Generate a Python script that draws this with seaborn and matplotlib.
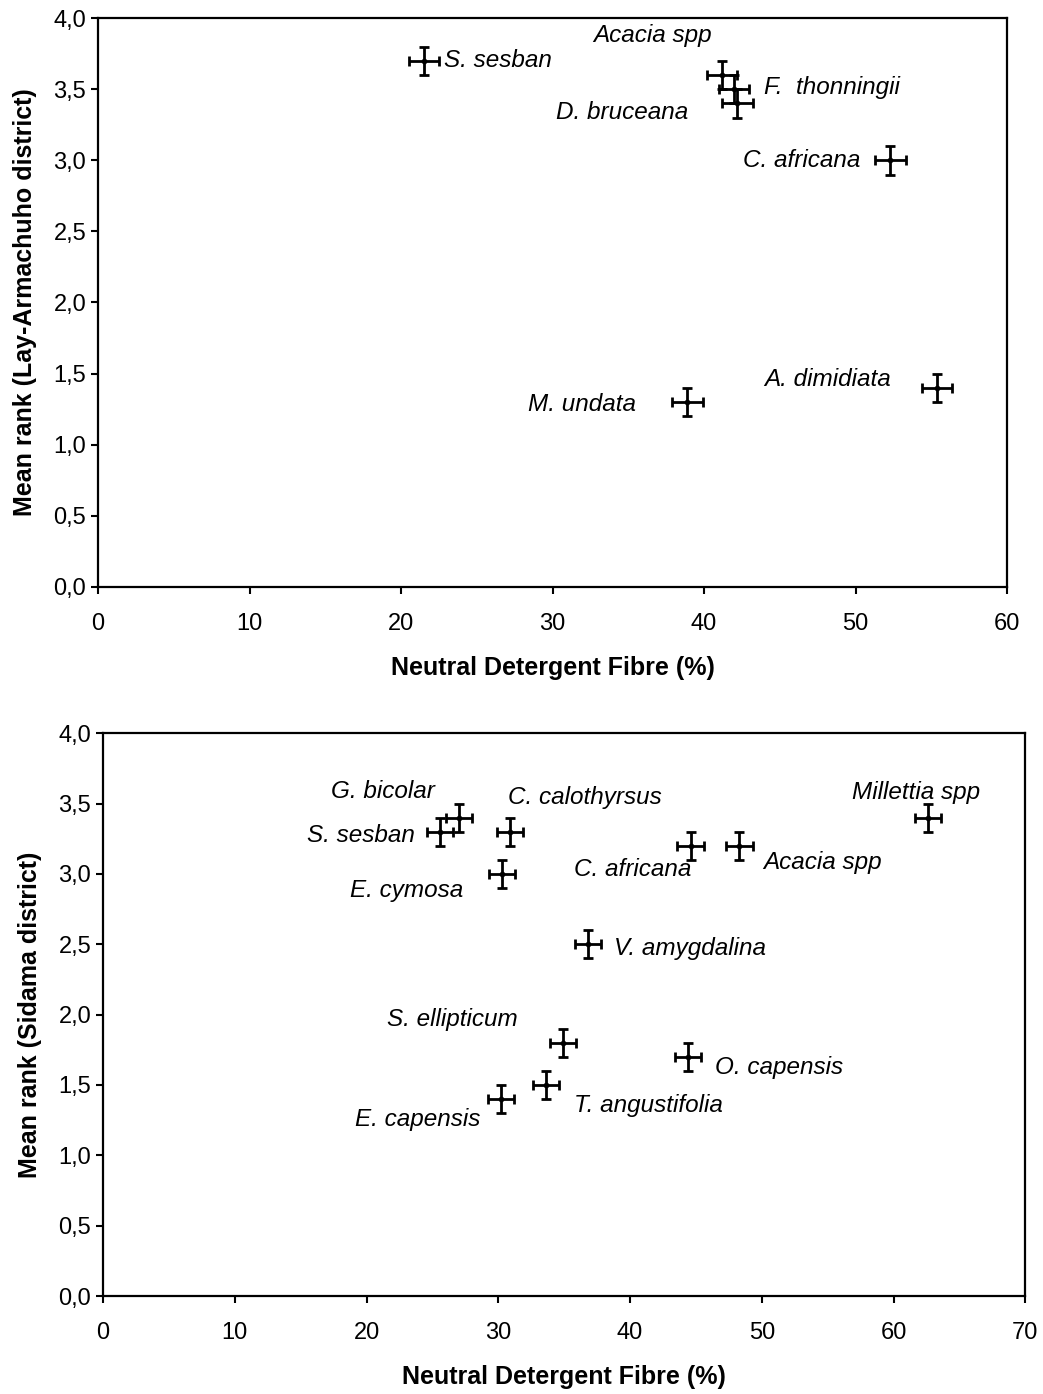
import numpy as np
import pandas as pd
import seaborn as sns
from matplotlib import pyplot as plt
from matplotlib.ticker import FuncFormatter

# Lay-Armachuho district
top_species = ['S. sesban', 'Acacia spp', 'F.  thonningii', 'D. bruceana',
               'C. africana', 'M. undata', 'A. dimidiata']
top_ndf = [21.5, 41.2, 42.0, 42.2, 52.3, 38.9, 55.4]
top_rank = [3.7, 3.6, 3.5, 3.4, 3.0, 1.3, 1.4]
top_xerr = [1.0, 1.0, 1.0, 1.0, 1.0, 1.0, 1.0]
top_yerr = [0.1, 0.1, 0.1, 0.1, 0.1, 0.1, 0.1]

# Sidama district
bot_species = ['G. bicolar', 'S. sesban', 'C. calothyrsus', 'E. cymosa', 'C. africana',
               'Acacia spp', 'Millettia spp', 'V. amygdalina', 'S. ellipticum',
               'O. capensis', 'T. angustifolia', 'E. capensis']
bot_ndf = [27.0, 25.6, 30.9, 30.3, 44.6, 48.3, 62.6, 36.8, 34.9, 44.4, 33.6, 30.2]
bot_rank = [3.4, 3.3, 3.3, 3.0, 3.2, 3.2, 3.4, 2.5, 1.8, 1.7, 1.5, 1.4]
bot_xerr = [1.0] * 12
bot_yerr = [0.1] * 12

# label offsets (pixels) and alignment
top_lab = [(20, 0, 'left'), (-70, 39, 'center'), (30, 2, 'left'), (-49, -9, 'right'),
           (-30, 0, 'right'), (-51, -2, 'right'), (-46, 8, 'right')]
bot_lab = [(-76, 26, 'center'), (-25, -4, 'right'), (75, 34, 'center'), (-96, -17, 'center'),
           (-58, -24, 'center'), (24, -17, 'left'), (-12, 25, 'center'), (26, -4, 'left'),
           (-110, 23, 'center'), (27, -11, 'left'), (28, -21, 'left'), (-83, -20, 'center')]

sns.set_style('ticks')
plt.rcParams['font.family'] = ['Liberation Sans', 'DejaVu Sans']
plt.rcParams['axes.linewidth'] = 1.6
plt.rcParams['text.color'] = 'black'
plt.rcParams['axes.labelcolor'] = 'black'

fig = plt.figure(figsize=(10.43, 13.94), dpi=100)
ax1 = fig.add_axes([0.094, 0.579, 0.8715, 0.408])
ax2 = fig.add_axes([0.0988, 0.0703, 0.8842, 0.4037])

comma = FuncFormatter(lambda v, p: f'{v:.1f}'.replace('.', ','))


def draw(ax, species, ndf, rank, xerr, yerr, labs, xmax, ylabel):
    df = pd.DataFrame({'ndf': ndf, 'rank': rank, 'sp': species})
    ax.errorbar(df['ndf'], df['rank'], xerr=xerr, yerr=yerr, fmt='none',
                ecolor='black', elinewidth=2, capsize=3.5, capthick=2, zorder=2)
    sns.scatterplot(data=df, x='ndf', y='rank', ax=ax, color='black', s=14,
                    edgecolor='black', zorder=3, legend=False)
    for (sp, x, y), (dx, dy, ha) in zip(zip(species, ndf, rank), labs):
        ax.annotate(sp, (x, y), xytext=(dx, dy), textcoords='offset pixels',
                    ha=ha, va='center', fontsize=17.5, style='italic', color='black')
    ax.set_xlim(0, xmax)
    ax.set_ylim(0, 4)
    ax.set_xticks(np.arange(0, xmax + 1, 10))
    ax.set_yticks(np.arange(0, 4.01, 0.5))
    ax.yaxis.set_major_formatter(comma)
    ax.tick_params(direction='out', length=5, width=1.5, labelsize=17, colors='black')
    ax.tick_params(axis='x', pad=14)
    ax.set_xlabel('Neutral Detergent Fibre (%)', fontsize=18, fontweight='bold', labelpad=15)
    ax.set_ylabel(ylabel, fontsize=18, fontweight='bold', labelpad=12)
    for s in ax.spines.values():
        s.set_visible(True)
        s.set_color('black')


draw(ax1, top_species, top_ndf, top_rank, top_xerr, top_yerr, top_lab, 60,
     'Mean rank (Lay-Armachuho district)')
draw(ax2, bot_species, bot_ndf, bot_rank, bot_xerr, bot_yerr, bot_lab, 70,
     'Mean rank (Sidama district)')

fig.savefig('out.png', dpi=100)
